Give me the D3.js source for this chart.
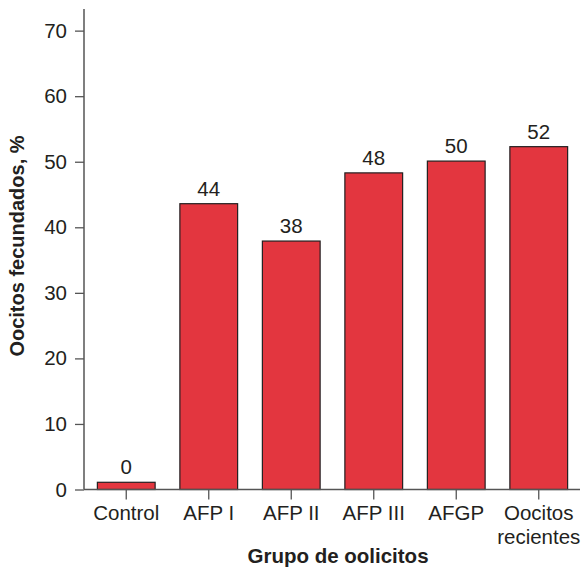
<!DOCTYPE html>
<html>
<head>
<meta charset="utf-8">
<script src="https://cdn.jsdelivr.net/npm/d3@7"></script>
<style>
  body { margin: 0; background: #fff; }
  text { font-family: "Liberation Sans", Arial, Helvetica, sans-serif; fill: #231f20; }
</style>
</head>
<body>
<div id="chart"></div>
<script>
// data
let groups = ["Control", "AFP I", "AFP II", "AFP III", "AFGP", "Oocitos recientes"]
let values = [1.1, 43.6, 37.9, 48.3, 50.1, 52.3]
let valueLabels = ["0", "44", "38", "48", "50", "52"]
let yTicks = [0, 10, 20, 30, 40, 50, 60, 70]

let width = 582,
    height = 568,
    fontSize = "20.5px"

let svg = d3.select("#chart")
  .append("svg")
    .attr("width", width)
    .attr("height", height)

let x = d3.scaleBand()
  .domain(groups)
  .range([85, 580])
  .paddingInner(0.3)
  .paddingOuter(0.15)

let y = d3.scaleLinear()
  .domain([0, 73.3])
  .range([489.5, 9])

// bars
svg.selectAll("rect.bar")
  .data(values)
  .enter()
  .append("rect")
    .attr("class", "bar")
    .attr("x", (d, i) => x(groups[i]))
    .attr("y", d => y(d))
    .attr("width", x.bandwidth())
    .attr("height", d => y(0) - y(d))
    .attr("fill", "#e3363f")
    .attr("stroke", "#231f20")
    .attr("stroke-width", 1.2)

// value labels
svg.selectAll("text.val")
  .data(values)
  .enter()
  .append("text")
    .attr("class", "val")
    .attr("x", (d, i) => x(groups[i]) + x.bandwidth() / 2)
    .attr("y", d => y(d) - 8)
    .attr("text-anchor", "middle")
    .style("font-size", fontSize)
    .text((d, i) => valueLabels[i])

// y axis
let yAxis = svg.append("g")
  .attr("transform", "translate(84,0)")
  .call(d3.axisLeft(y).tickValues(yTicks).tickSize(9).tickPadding(8).tickSizeOuter(0))
yAxis.select(".domain").attr("stroke", "#555").attr("stroke-width", 1.5)
  .attr("d", "M0," + y(73.3) + "V" + y(0))
yAxis.selectAll(".tick line").attr("stroke", "#555").attr("stroke-width", 1.3)
yAxis.selectAll(".tick text")
  .style("font-size", fontSize)
  .style("font-family", "Liberation Sans, Arial, sans-serif")
  .attr("fill", "#231f20")

// x axis
let xAxis = svg.append("g")
  .attr("transform", "translate(0," + y(0) + ")")
  .call(d3.axisBottom(x).tickSize(10).tickPadding(6).tickSizeOuter(0))
xAxis.select(".domain").attr("stroke", "#555").attr("stroke-width", 1.5)
  .attr("d", "M84,0H580")
xAxis.selectAll(".tick line").attr("stroke", "#555").attr("stroke-width", 1.3)
xAxis.selectAll(".tick text")
  .style("font-size", fontSize)
  .style("font-family", "Liberation Sans, Arial, sans-serif")
  .attr("fill", "#231f20")
  .each(function(d) {
    let words = d.split(" ")
    let t = d3.select(this)
    if (d === "Oocitos recientes") {
      t.text(null)
      words.forEach((w, k) => {
        t.append("tspan")
          .attr("x", 0)
          .attr("dy", k === 0 ? "0.71em" : "1.17em")
          .text(w)
      })
      t.attr("dy", null)
    }
  })

// axis titles
svg.append("text")
  .attr("x", 338)
  .attr("y", 563)
  .attr("text-anchor", "middle")
  .style("font-size", "20.5px")
  .style("font-weight", "bold")
  .text("Grupo de oolicitos")

svg.append("text")
  .attr("transform", "translate(24,246) rotate(-90)")
  .attr("text-anchor", "middle")
  .style("font-size", "20px")
  .style("font-weight", "bold")
  .text("Oocitos fecundados, %")
</script>
</body>
</html>
